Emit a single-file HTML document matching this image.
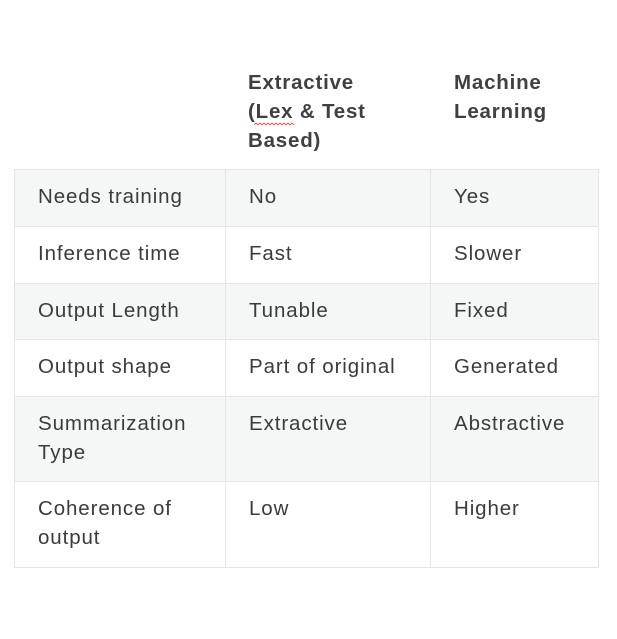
<!DOCTYPE html>
<html><head><meta charset="utf-8"><style>
html,body{margin:0;padding:0;background:#fff;width:617px;height:639px;overflow:hidden}
body{position:relative;font-family:"Liberation Sans",sans-serif;color:#3b3b3b}
.t{position:absolute;font-size:20.5px;line-height:29px;white-space:nowrap;letter-spacing:0.9px}
.b{font-weight:bold;color:#404040;letter-spacing:0.8px}
.row{position:absolute;left:14px;width:585px;border-top:1px solid #e3e6e5}
.sh{background:#f5f7f6}
.v{position:absolute;top:169px;height:398px;width:1px;background:#e3e6e5}
</style></head><body>
<div class="t b" style="left:248px;top:68px">Extractive<br>(Lex &amp; Test<br>Based)</div>
<svg style="position:absolute;left:254px;top:122px" width="42" height="5"><path d="M0 3 L2 1 L4 3 L6 1 L8 3 L10 1 L12 3 L14 1 L16 3 L18 1 L20 3 L22 1 L24 3 L26 1 L28 3 L30 1 L32 3 L34 1 L36 3 L38 1 L40 3" stroke="#e04040" fill="none" stroke-width="0.8"/></svg>
<div class="t b" style="left:454px;top:68px">Machine<br>Learning</div>

<div class="row sh" style="top:169px;height:56px"></div>
<div class="row" style="top:226px;height:56px"></div>
<div class="row sh" style="top:283px;height:56px"></div>
<div class="row" style="top:339px;height:56px"></div>
<div class="row sh" style="top:396px;height:85px"></div>
<div class="row" style="top:481px;height:85px;border-bottom:1px solid #e3e6e5"></div>
<div class="v" style="left:14px"></div>
<div class="v" style="left:225px"></div>
<div class="v" style="left:430px"></div>
<div class="v" style="left:598px"></div>

<div class="t" style="left:38px;top:182px">Needs training</div>
<div class="t" style="left:249px;top:182px">No</div>
<div class="t" style="left:454px;top:182px">Yes</div>

<div class="t" style="left:38px;top:239px">Inference time</div>
<div class="t" style="left:249px;top:239px">Fast</div>
<div class="t" style="left:454px;top:239px">Slower</div>

<div class="t" style="left:38px;top:296px">Output Length</div>
<div class="t" style="left:249px;top:296px">Tunable</div>
<div class="t" style="left:454px;top:296px">Fixed</div>

<div class="t" style="left:38px;top:352px">Output shape</div>
<div class="t" style="left:249px;top:352px">Part of original</div>
<div class="t" style="left:454px;top:352px">Generated</div>

<div class="t" style="left:38px;top:409px">Summarization<br>Type</div>
<div class="t" style="left:249px;top:409px">Extractive</div>
<div class="t" style="left:454px;top:409px">Abstractive</div>

<div class="t" style="left:38px;top:494px">Coherence of<br>output</div>
<div class="t" style="left:249px;top:494px">Low</div>
<div class="t" style="left:454px;top:494px">Higher</div>
</body></html>
